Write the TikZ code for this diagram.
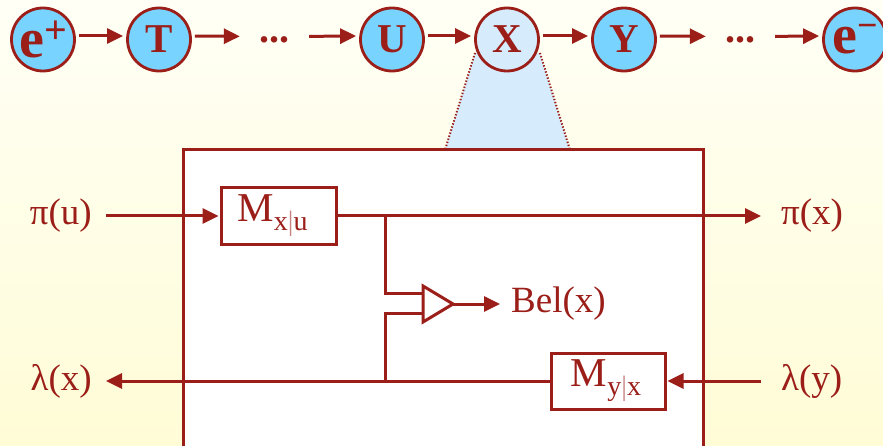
\documentclass[tikz,border=0pt]{standalone}
\usepackage{fontspec}
\setmainfont{Liberation Serif}
\usetikzlibrary{arrows.meta}
\definecolor{dred}{RGB}{155,30,25}
\definecolor{cblue}{RGB}{120,212,255}
\definecolor{pblue}{RGB}{214,236,252}
\definecolor{bgtop}{RGB}{255,255,246}
\definecolor{bgbot}{RGB}{255,252,214}
\tikzset{
  circ/.style={circle, draw=dred, line width=2.8pt, fill=cblue, minimum size=63pt, inner sep=0pt,
    text=dred, font=\bfseries\fontsize{41}{41}\selectfont},
  dotsnode/.style={inner sep=0pt, text=dred, font=\bfseries\fontsize{40}{40}\selectfont},
  arr/.style={draw=dred, line width=3pt, -{Triangle[length=16pt,width=15pt]}},
  wire/.style={draw=dred, line width=3pt},
  mbox/.style={draw=dred, line width=3pt, fill=white, inner sep=0pt, text=dred,
    font=\fontsize{41}{41}\selectfont},
  lbl/.style={inner sep=0pt, text=dred, font=\fontsize{37}{37}\selectfont},
  magedge/.style={dred, line width=2pt, dash pattern=on 1.4pt off 1.8pt},
}
\newcommand{\sbs}[1]{\raisebox{-9pt}{\fontsize{28}{28}\selectfont #1}}
\begin{document}
\begin{tikzpicture}[x=1pt,y=-1pt]
\useasboundingbox (0,0) rectangle (883,446);
\clip (0,0) rectangle (883,446);
\shade[top color=bgtop, bottom color=bgbot] (0,0) rectangle (883,446);

% magnifier trapezoid
\fill[pblue] (475,53) -- (445,150) -- (570,150) -- (540,53) -- cycle;
\draw[magedge] (475,53) -- (445,150);
\draw[magedge] (540,53) -- (570,150);

% frame
\draw[dred, line width=3pt, fill=white] (183,470) -- (183,150) -- (703,150) -- (703,470);

% chain
\node[circ] (ep) at (43,39.5) {\fontsize{56}{56}\selectfont e\raisebox{14pt}{\fontsize{40}{40}\selectfont +}};
\node[circ] (T) at (159,39.5) {T};
\node[dotsnode] (d1) at (274,40) {...};
\node[circ] (U) at (392,39.5) {U};
\node[circ, fill=pblue] (X) at (507,39.5) {X};
\node[circ] (Y) at (624,39.5) {Y};
\node[dotsnode] (d2) at (740,40) {...};
\node[circ] (em) at (855,39.5) {\fontsize{56}{56}\selectfont e\raisebox{16pt}{\fontsize{36}{36}\selectfont \textminus}};

\draw[arr, shorten <=3pt, shorten >=3pt] ([yshift=3.5pt]ep.east) -- ([yshift=3.5pt]T.west);
\draw[arr, shorten <=3pt, shorten >=19pt] ([yshift=3.5pt]T.east) -- ([yshift=3.5pt]d1.west);
\draw[arr, shorten <=20pt, shorten >=3pt] ([yshift=3.5pt]d1.east) -- ([yshift=3.5pt]U.west);
\draw[arr, shorten <=3pt, shorten >=3pt] ([yshift=3.5pt]U.east) -- ([yshift=3.5pt]X.west);
\draw[arr, shorten <=3pt, shorten >=3pt] ([yshift=3.5pt]X.east) -- ([yshift=3.5pt]Y.west);
\draw[arr, shorten <=3pt, shorten >=19pt] ([yshift=3.5pt]Y.east) -- ([yshift=3.5pt]d2.west);
\draw[arr, shorten <=20pt, shorten >=3pt] ([yshift=3.5pt]d2.east) -- ([yshift=3.5pt]em.west);

% inner diagram
\node[mbox, minimum width=115pt, minimum height=57pt] (Mxu) at (278.5,216) {\hspace*{-12pt}M\sbs{x{\color{dred!55}|}u}};
\node[mbox, minimum width=114pt, minimum height=56pt] (Myx) at (608,381) {\hspace*{-4pt}M\sbs{y{\color{dred!55}|}x}};

\node[lbl, anchor=east] (pu) at (92,216) {π(u)};
\node[lbl, anchor=west] (px) at (781,216) {π(x)};
\node[lbl, anchor=east] (lx) at (92,381) {λ(x)};
\node[lbl, anchor=west] (ly) at (781,381) {λ(y)};
\node[lbl, anchor=west] (bel) at (511,304) {Bel(x)};

\coordinate (j1) at (385,216);
\coordinate (j2) at (385,381);
\coordinate (t1) at (423,293);
\coordinate (t2) at (423,313);
\coordinate (ta) at (423,286);
\coordinate (tb) at (423,322);
\coordinate (apex) at (453,304);

\draw[arr, shorten <=14pt, shorten >=1pt] (pu.east) -- (Mxu.west);
\draw[arr, shorten >=20pt] (Mxu.east) -- (px.west);
\draw[arr, shorten <=20pt, shorten >=1pt] (ly.west) -- (Myx.east);
\draw[arr, shorten >=14pt] (Myx.west) -- (lx.east);
\draw[wire] (j1) |- (t1);
\draw[wire] (t2) -| (j2);
\draw[dred, line width=3pt, line join=miter] (ta) -- (apex) -- (tb) -- cycle;
\draw[arr, shorten >=11pt] (apex) -- (bel.west);
\end{tikzpicture}
\end{document}
